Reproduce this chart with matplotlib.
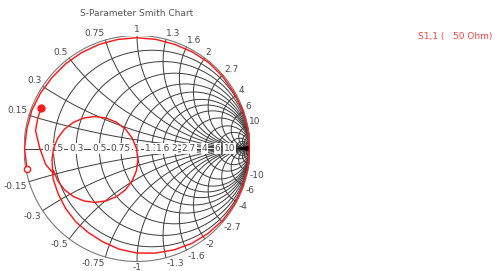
import numpy as np
import matplotlib
matplotlib.use("Agg")
import matplotlib.pyplot as plt

# ---------------- data ----------------
title = "S-Parameter Smith Chart"
legend_label = "S1,1 (   50 Ohm)"

# labelled grid values (resistance circles / reactance arcs)
grid_values = [0.15, 0.3, 0.5, 0.75, 1, 1.3, 1.6, 2, 2.7, 4, 6, 10]
grid_labels = ["0.15", "0.3", "0.5", "0.75", "1", "1.3", "1.6", "2", "2.7", "4", "6", "10"]
extra_grid_values = [15, 20, 30, 50, 100]

# S11 main trace before the resonance loop (unwrapped phase in degrees, magnitude)
s11_phase_a = [-169.5, -180, -190, -200, -210, -220, -230, -240, -250, -260, -270,
               -280, -290, -300, -310, -320, -330, -340, -350, -360, -370, -380,
               -390, -400, -410, -420, -430, -440, -450, -460, -470, -480, -490,
               -500, -510, -520, -524]
s11_mag_a = [0.99, 0.995, 0.99, 0.99, 0.985, 0.98, 0.98, 0.98, 0.98, 0.98, 0.98,
             0.98, 0.98, 0.985, 0.99, 0.99, 0.99, 0.995, 0.995, 0.995, 0.995, 0.995,
             0.993, 0.99, 0.98, 0.97, 0.955, 0.94, 0.925, 0.905, 0.88, 0.86, 0.845,
             0.825, 0.805, 0.79, 0.775]

# resonance loop (real, imaginary)
loop_re = [-0.752, -0.739, -0.701, -0.641, -0.562, -0.470, -0.372, -0.274, -0.182,
           -0.103, -0.043, -0.005, 0.008, -0.005, -0.043, -0.103, -0.182, -0.274,
           -0.372, -0.470, -0.562, -0.641, -0.701, -0.739, -0.745]
loop_im = [-0.097, 0.001, 0.093, 0.172, 0.232, 0.270, 0.283, 0.270, 0.232, 0.172,
           0.093, 0.001, -0.097, -0.195, -0.287, -0.366, -0.426, -0.464, -0.477,
           -0.464, -0.426, -0.366, -0.287, -0.195, -0.214]

# S11 main trace after the loop
s11_phase_b = [-530, -540, -550, -557, -562.8]
s11_mag_b = [0.82, 0.86, 0.912, 0.918, 0.922]

# ---------------- figure ----------------
W, H = 495, 271
fig = plt.figure(figsize=(W / 100, H / 100), dpi=100)
cx, cy, R = 137, 148.5, 113
ax = fig.add_axes([(cx - R) / W, (H - (cy + R)) / H, 2 * R / W, 2 * R / H])
ax.set_xlim(-1, 1)
ax.set_ylim(-1, 1)
ax.axis("off")

grid_color = "#3c3c3c"
glw = 0.7

def gamma(z):
    return (z - 1) / (z + 1)

t = np.linspace(0, 2 * np.pi, 721)
all_vals = grid_values + extra_grid_values
# resistance circles
for r in all_vals:
    c = r / (1 + r)
    rad = 1 / (1 + r)
    ax.plot(c + rad * np.cos(t), rad * np.sin(t), color=grid_color, lw=glw, zorder=1)
# reactance arcs
rr = np.concatenate([[0.0], np.logspace(-3, 4, 1500)])
for x in all_vals:
    for s in (1, -1):
        g = gamma(rr + 1j * s * x)
        ax.plot(g.real, g.imag, color=grid_color, lw=glw, zorder=1)
# unit circle and real axis
ax.plot(np.cos(t), np.sin(t), color="#7a7a7a", lw=0.8, zorder=1)
ax.plot([-1, 1], [0, 0], color=grid_color, lw=glw, zorder=1)
# dense convergence wedge at the open-circuit point
ax.fill([(15 - 1) / 16, 1, 1], [0, 0.025, -0.025], color="black", lw=0, zorder=2)

lab_color = "#4a4a4a"
fs = 6.5
# real axis labels
for r, lab in zip(grid_values, grid_labels):
    g = (r - 1) / (r + 1)
    ax.text(g, 0, lab, ha="center", va="center", fontsize=fs, color=lab_color,
            zorder=3, bbox=dict(boxstyle="square,pad=0.08", fc="white", ec="none"))
# reactance labels on the outer circle
for x, lab in zip(grid_values, grid_labels):
    for s in (1, -1):
        g = gamma(1j * s * x)
        if abs(g.real) < 0.05:
            ha = "center"
        elif g.real < 0:
            ha = "right"
        else:
            ha = "left"
        va = "bottom" if s > 0 else "top"
        text = lab if s > 0 else "-" + lab
        ax.annotate(text, (g.real, g.imag), xytext=(g.real * 1.2, g.imag * 1.2),
                    textcoords="offset points", ha=ha, va=va, fontsize=fs,
                    color=lab_color, annotation_clip=False)

# S11 trace
pa = np.deg2rad(np.array(s11_phase_a))
ga = np.array(s11_mag_a) * np.exp(1j * pa)
gl = np.array(loop_re) + 1j * np.array(loop_im)
pb = np.deg2rad(np.array(s11_phase_b))
gb = np.array(s11_mag_b) * np.exp(1j * pb)
trace = np.concatenate([ga, gl, gb])
red = "#ff1a1a"
ax.plot(trace.real, trace.imag, color=red, lw=1.05, zorder=4,
        solid_joinstyle="round", clip_on=False)
ax.plot(trace.real[0], trace.imag[0], "o", ms=4.5, mfc="white", mec=red, mew=1.0,
        zorder=5, clip_on=False)
ax.plot(trace.real[-1], trace.imag[-1], "o", ms=5, mfc=red, mec=red, zorder=5,
        clip_on=False)

fig.text(cx / W, 1 - 14 / H, title, ha="center", va="center", fontsize=6.5,
         color="#555555")
fig.text(418 / W, 1 - 37 / H, legend_label, ha="left", va="center", fontsize=6.5,
         color="#ff4444")

fig.savefig("out.png", dpi=100)
